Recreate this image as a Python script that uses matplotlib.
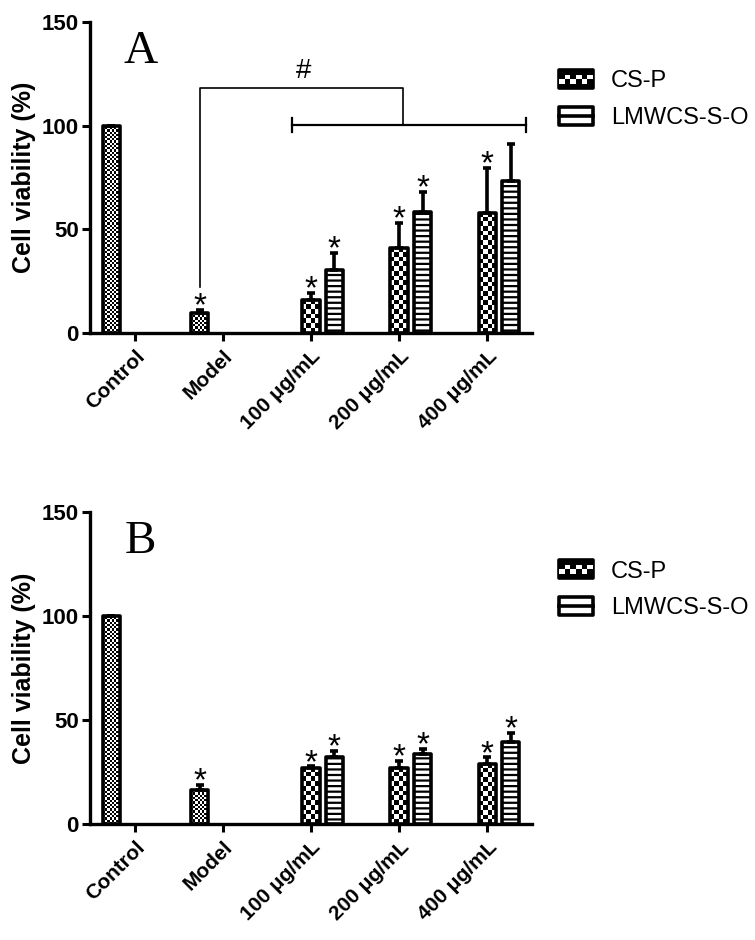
import numpy as np
import matplotlib
matplotlib.use("Agg")
import matplotlib.pyplot as plt
import matplotlib.transforms as mtransforms
from matplotlib.patches import Rectangle, Patch
from matplotlib.lines import Line2D
from matplotlib.legend_handler import HandlerBase

plt.rcParams['font.family'] = ['Liberation Sans', 'DejaVu Sans']
plt.rcParams['hatch.linewidth'] = 1.6

# data
groups = ['Control', 'Model', '100 μg/mL', '200 μg/mL', '400 μg/mL']
series = ['CS-P', 'LMWCS-S-O']

# panel A
base_a = [100, 9.6]          # Control, Model
base_err_a = [0, 1.5]
base_star_a = [False, True]
csp_a = [16, 41, 58]
csp_err_a = [3.3, 12, 21.5]
csp_star_a = [True, True, True]
lmw_a = [30.5, 58.5, 73.5]
lmw_err_a = [8, 9.5, 17.8]
lmw_star_a = [True, True, False]

# panel B
base_b = [100, 16.3]
base_err_b = [0, 2.4]
base_star_b = [False, True]
csp_b = [27, 27, 29]
csp_err_b = [0.7, 3.3, 3]
csp_star_b = [True, True, True]
lmw_b = [32.2, 33.6, 39.4]
lmw_err_b = [2.8, 2.4, 4.3]
lmw_star_b = [True, True, True]

W = 0.2      # bar width
OFF = 0.265  # offset of side bars
PX_PER_UNIT = 311 / 150.0


def checker_fill(ax, rect, ncols, sq_px):
    x0 = rect.get_x()
    w = rect.get_width()
    h = rect.get_height()
    nrows = max(1, int(round(h * PX_PER_UNIT / sq_px)))
    arr = (np.add.outer(np.arange(nrows), np.arange(ncols)) % 2).astype(float)
    im = ax.imshow(arr, extent=(x0, x0 + w, 0, h), cmap='gray', vmin=0, vmax=1,
                   interpolation='nearest', aspect='auto', zorder=1.5)
    im.set_clip_path(rect)


def draw_bars(ax, x, vals, errs, stars, kind):
    bars = ax.bar(x, vals, width=W, facecolor='none', edgecolor='black',
                  linewidth=2.6, joinstyle='round', zorder=3,
                  hatch='---' if kind == 'lines' else None)
    if kind == 'lines':
        for b in bars:
            b.set_facecolor('white')
            b.set_zorder(2)
    else:
        for b in bars:
            checker_fill(ax, b, 8 if kind == 'fine' else 4, 2.2 if kind == 'fine' else 4.6)
    ax.errorbar(x, vals, yerr=[np.zeros(len(vals)), errs], fmt='none',
                ecolor='black', elinewidth=2.6, capsize=3, capthick=2.6, zorder=2.5)
    for xi, v, e, s in zip(x, vals, errs, stars):
        if s:
            ax.annotate('*', (xi, v + e), xytext=(0, -4), textcoords='offset points',
                        ha='center', va='baseline', fontsize=24, zorder=4)


class CheckerHandler(HandlerBase):
    def create_artists(self, legend, orig_handle, xdescent, ydescent, width, height, fontsize, trans):
        x0, y0 = -xdescent, -ydescent
        arts = [Rectangle((x0, y0), width, height, facecolor='black', edgecolor='black',
                          linewidth=2.6, joinstyle='round', transform=trans)]
        nc = 6
        cw = width / nc
        for i in range(nc):
            for j in range(2):
                if (i + j) % 2 == 0:
                    arts.append(Rectangle((x0 + i * cw, y0 + height * (0.25 + 0.25 * j)), cw, height * 0.25,
                                          facecolor='white', edgecolor='none', transform=trans))
        return arts


class LinesHandler(HandlerBase):
    def create_artists(self, legend, orig_handle, xdescent, ydescent, width, height, fontsize, trans):
        x0, y0 = -xdescent, -ydescent
        r = Rectangle((x0, y0), width, height, facecolor='white', edgecolor='black',
                      linewidth=2.6, joinstyle='round', transform=trans)
        ln = Line2D([x0, x0 + width], [y0 + height / 2] * 2, color='black', linewidth=2.6,
                    transform=trans)
        return [r, ln]


def panel(ax, letter, base, base_err, base_star, csp, csp_err, csp_star,
          lmw, lmw_err, lmw_star):
    xg = np.arange(len(groups))
    draw_bars(ax, xg[:2] - OFF, base, base_err, base_star, 'fine')
    draw_bars(ax, xg[2:], csp, csp_err, csp_star, 'checker')
    draw_bars(ax, xg[2:] + OFF, lmw, lmw_err, lmw_star, 'lines')

    ax.set_xlim(-0.51, 4.51)
    ax.set_ylim(0, 150)
    ax.set_yticks([0, 50, 100, 150])
    ax.set_xticks(xg)
    ax.set_xticklabels(groups, rotation=45, ha='right', rotation_mode='anchor',
                       fontsize=15, fontweight='bold')
    shift = mtransforms.ScaledTranslation(-5 / 100, -6 / 100, ax.figure.dpi_scale_trans)
    for t in ax.get_xticklabels():
        t.set_transform(t.get_transform() + shift)
    for t in ax.get_yticklabels():
        t.set_fontsize(16)
        t.set_fontweight('bold')
    ax.set_ylabel('Cell viability (%)', fontsize=18, fontweight='bold', labelpad=4)
    for s in ['top', 'right']:
        ax.spines[s].set_visible(False)
    for s in ['left', 'bottom']:
        ax.spines[s].set_linewidth(2.4)
        ax.spines[s].set_zorder(5)
    ax.tick_params(width=2.2, length=6, pad=2)
    ax.tick_params(axis='x', pad=4)
    ax.text(0.115, 0.905, letter, transform=ax.transAxes, ha='center', va='center',
            fontsize=34, family='Liberation Serif')

    h1 = Patch(facecolor='black', label=series[0])
    h2 = Patch(facecolor='white', label=series[1])
    ax.legend(handles=[h1, h2], loc='upper left', bbox_to_anchor=(1.06, 0.845),
              frameon=False, fontsize=17, handlelength=1.45, handleheight=0.8,
              handletextpad=0.75, labelspacing=0.6, borderpad=0, borderaxespad=0,
              handler_map={h1: CheckerHandler(), h2: LinesHandler()})


fig = plt.figure(figsize=(7.55, 9.40), dpi=100)
axA = fig.add_axes([0.119, 0.6457, 0.586, 0.331])
axB = fig.add_axes([0.119, 0.1234, 0.586, 0.332])

panel(axA, 'A', base_a, base_err_a, base_star_a, csp_a, csp_err_a, csp_star_a,
      lmw_a, lmw_err_a, lmw_star_a)
panel(axB, 'B', base_b, base_err_b, base_star_b, csp_b, csp_err_b, csp_star_b,
      lmw_b, lmw_err_b, lmw_star_b)

# significance bracket in panel A
model_x = 1 - OFF
axA.plot([model_x, model_x, 3.045, 3.045], [22, 118, 118, 100.3], color='black', lw=1.2)
axA.plot([1.78, 4.44], [100.3, 100.3], color='black', lw=1.6)
axA.plot([1.78, 1.78], [97, 103.5], color='black', lw=1.6)
axA.plot([4.44, 4.44], [97, 103.5], color='black', lw=1.6)
axA.text(1.92, 120, '#', ha='center', va='bottom', fontsize=20)

fig.savefig('out.png', dpi=100)
